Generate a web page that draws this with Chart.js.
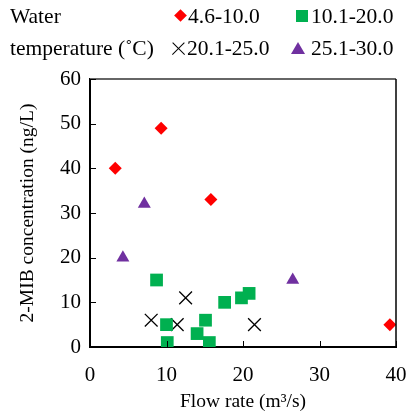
<!DOCTYPE html>
<html>
<head>
<meta charset="utf-8">
<script src="https://cdn.jsdelivr.net/npm/chart.js@4"></script>
<style>
  html, body { margin: 0; padding: 0; background: #fff; }
  #wrap { position: relative; width: 407px; height: 414px; font-family: "Liberation Serif", "Times New Roman", serif; }
  #legend { position: absolute; left: 0; top: 0; width: 407px; height: 66px; font-size: 21.5px; color: #000; font-family: "Liberation Serif", serif; }
  #legend span { position: absolute; white-space: nowrap; line-height: 22px; }
  .mk { position: absolute; }
  .dia { width: 9px; height: 9px; background: #ff0000; transform: rotate(45deg); }
  .sq { width: 12px; height: 12px; background: #00b050; }
  .tri { width: 0; height: 0; border-left: 7px solid transparent; border-right: 7px solid transparent; border-bottom: 12px solid #7030a0; }
  .x1, .x2 { position: absolute; width: 17px; height: 1.4px; background: #000; }
  .x1 { transform: rotate(45deg); }
  .x2 { transform: rotate(-45deg); }
</style>
</head>
<body>
<div id="wrap">
  <canvas id="chart" width="407" height="414"></canvas>
  <div id="legend">
    <span style="left:10px; top:5px;">Water</span>
    <span style="left:10px; top:37px;">temperature (˚C)</span>
    <div class="mk dia" style="left:176px; top:11px;"></div>
    <span style="left:188px; top:5px;">4.6-10.0</span>
    <div class="mk sq" style="left:296px; top:10px;"></div>
    <span style="left:311px; top:5px;">10.1-20.0</span>
    <div class="x1" style="left:170px; top:48px;"></div>
    <div class="x2" style="left:170px; top:48px;"></div>
    <span style="left:187px; top:37px;">20.1-25.0</span>
    <div class="mk tri" style="left:291px; top:42px;"></div>
    <span style="left:311px; top:37px;">25.1-30.0</span>
  </div>
</div>
<script>
// series: [flow rate (m3/s), 2-MIB (ng/L)]
const t1X = [3.3, 9.3, 15.8, 39.2];
const t1Y = [40, 49, 33, 5];
const t2X = [8.7, 10.0, 10.1, 14.0, 15.1, 15.6, 17.6, 19.8, 20.8];
const t2Y = [15, 5, 1, 3, 6, 1, 10, 11, 12];
const t3X = [8.0, 11.4, 12.5, 21.5];
const t3Y = [6, 5, 11, 5];
const t4X = [4.3, 7.1, 26.5];
const t4Y = [20, 32, 15];
const xTicks = [0, 10, 20, 30, 40];
const yTicks = [0, 10, 20, 30, 40, 50, 60];

const pts = (xs, ys) => xs.map((x, i) => ({ x, y: ys[i] }));
const fam = '"Liberation Serif", "Times New Roman", serif';
const tickFont = { family: fam, size: 21 };
const titleFont = { family: fam, size: 19.5 };

// frame on top/right + inward tick marks
const framePlugin = {
  id: 'frame',
  afterDraw(chart) {
    const { ctx, chartArea: a, scales } = chart;
    ctx.save();
    ctx.strokeStyle = '#666';
    ctx.lineWidth = 2;
    ctx.beginPath();
    ctx.moveTo(a.left, a.top);
    ctx.lineTo(a.right, a.top);
    ctx.stroke();
    ctx.strokeStyle = '#000';
    ctx.lineWidth = 1.5;
    ctx.beginPath();
    ctx.moveTo(a.right, a.top);
    ctx.lineTo(a.right, a.bottom);
    ctx.stroke();
    ctx.lineWidth = 1;
    ctx.beginPath();
    yTicks.forEach(v => {
      const y = Math.round(scales.y.getPixelForValue(v)) + 0.5;
      ctx.moveTo(a.left, y);
      ctx.lineTo(a.left + 6, y);
    });
    xTicks.forEach(v => {
      const x = Math.round(scales.x.getPixelForValue(v)) + 0.5;
      ctx.moveTo(x, a.bottom);
      ctx.lineTo(x, a.bottom - 6);
    });
    ctx.stroke();
    ctx.restore();
  }
};

new Chart(document.getElementById('chart'), {
  type: 'scatter',
  data: {
    datasets: [
      { label: '4.6-10.0', data: pts(t1X, t1Y), pointStyle: 'rectRot', radius: 6.5, backgroundColor: '#ff0000', borderColor: '#ff0000', borderWidth: 0 },
      { label: '10.1-20.0', data: pts(t2X, t2Y), pointStyle: 'rect', radius: 9, backgroundColor: '#00b050', borderColor: '#00b050', borderWidth: 0 },
      { label: '20.1-25.0', data: pts(t3X, t3Y), pointStyle: 'crossRot', radius: 9, backgroundColor: '#000', borderColor: '#000', borderWidth: 1.3 },
      { label: '25.1-30.0', data: pts(t4X, t4Y), pointStyle: 'triangle', radius: 7.5, backgroundColor: '#7030a0', borderColor: '#7030a0', borderWidth: 0 }
    ]
  },
  options: {
    responsive: false,
    animation: false,
    layout: { padding: { top: 79, right: 11, left: 0, bottom: 0 } },
    plugins: { legend: { display: false }, tooltip: { enabled: false } },
    scales: {
      x: {
        type: 'linear', min: 0, max: 40,
        afterBuildTicks: s => { s.ticks = xTicks.map(v => ({ value: v })); },
        afterFit: s => { s.height = 67; s.paddingLeft = 0; s.paddingRight = 0; },
        grid: { display: false, drawTicks: false },
        border: { display: true, color: '#000', width: 2 },
        ticks: { color: '#000', font: tickFont, padding: 16, maxRotation: 0 },
        title: { display: true, text: 'Flow rate (m³/s)', color: '#000', font: titleFont, padding: { top: 2, bottom: 0 } }
      },
      y: {
        type: 'linear', min: 0, max: 60,
        afterBuildTicks: s => { s.ticks = yTicks.map(v => ({ value: v })); },
        afterFit: s => { s.width = 90; s.paddingTop = 0; s.paddingBottom = 0; },
        grid: { display: false, drawTicks: false },
        border: { display: true, color: '#000', width: 2 },
        ticks: { color: '#000', font: tickFont, padding: 9 },
        title: { display: true, text: '2-MIB concentration (ng/L)', color: '#000', font: titleFont, padding: { top: 16, bottom: 0 } }
      }
    }
  },
  plugins: [framePlugin]
});
</script>
</body>
</html>
